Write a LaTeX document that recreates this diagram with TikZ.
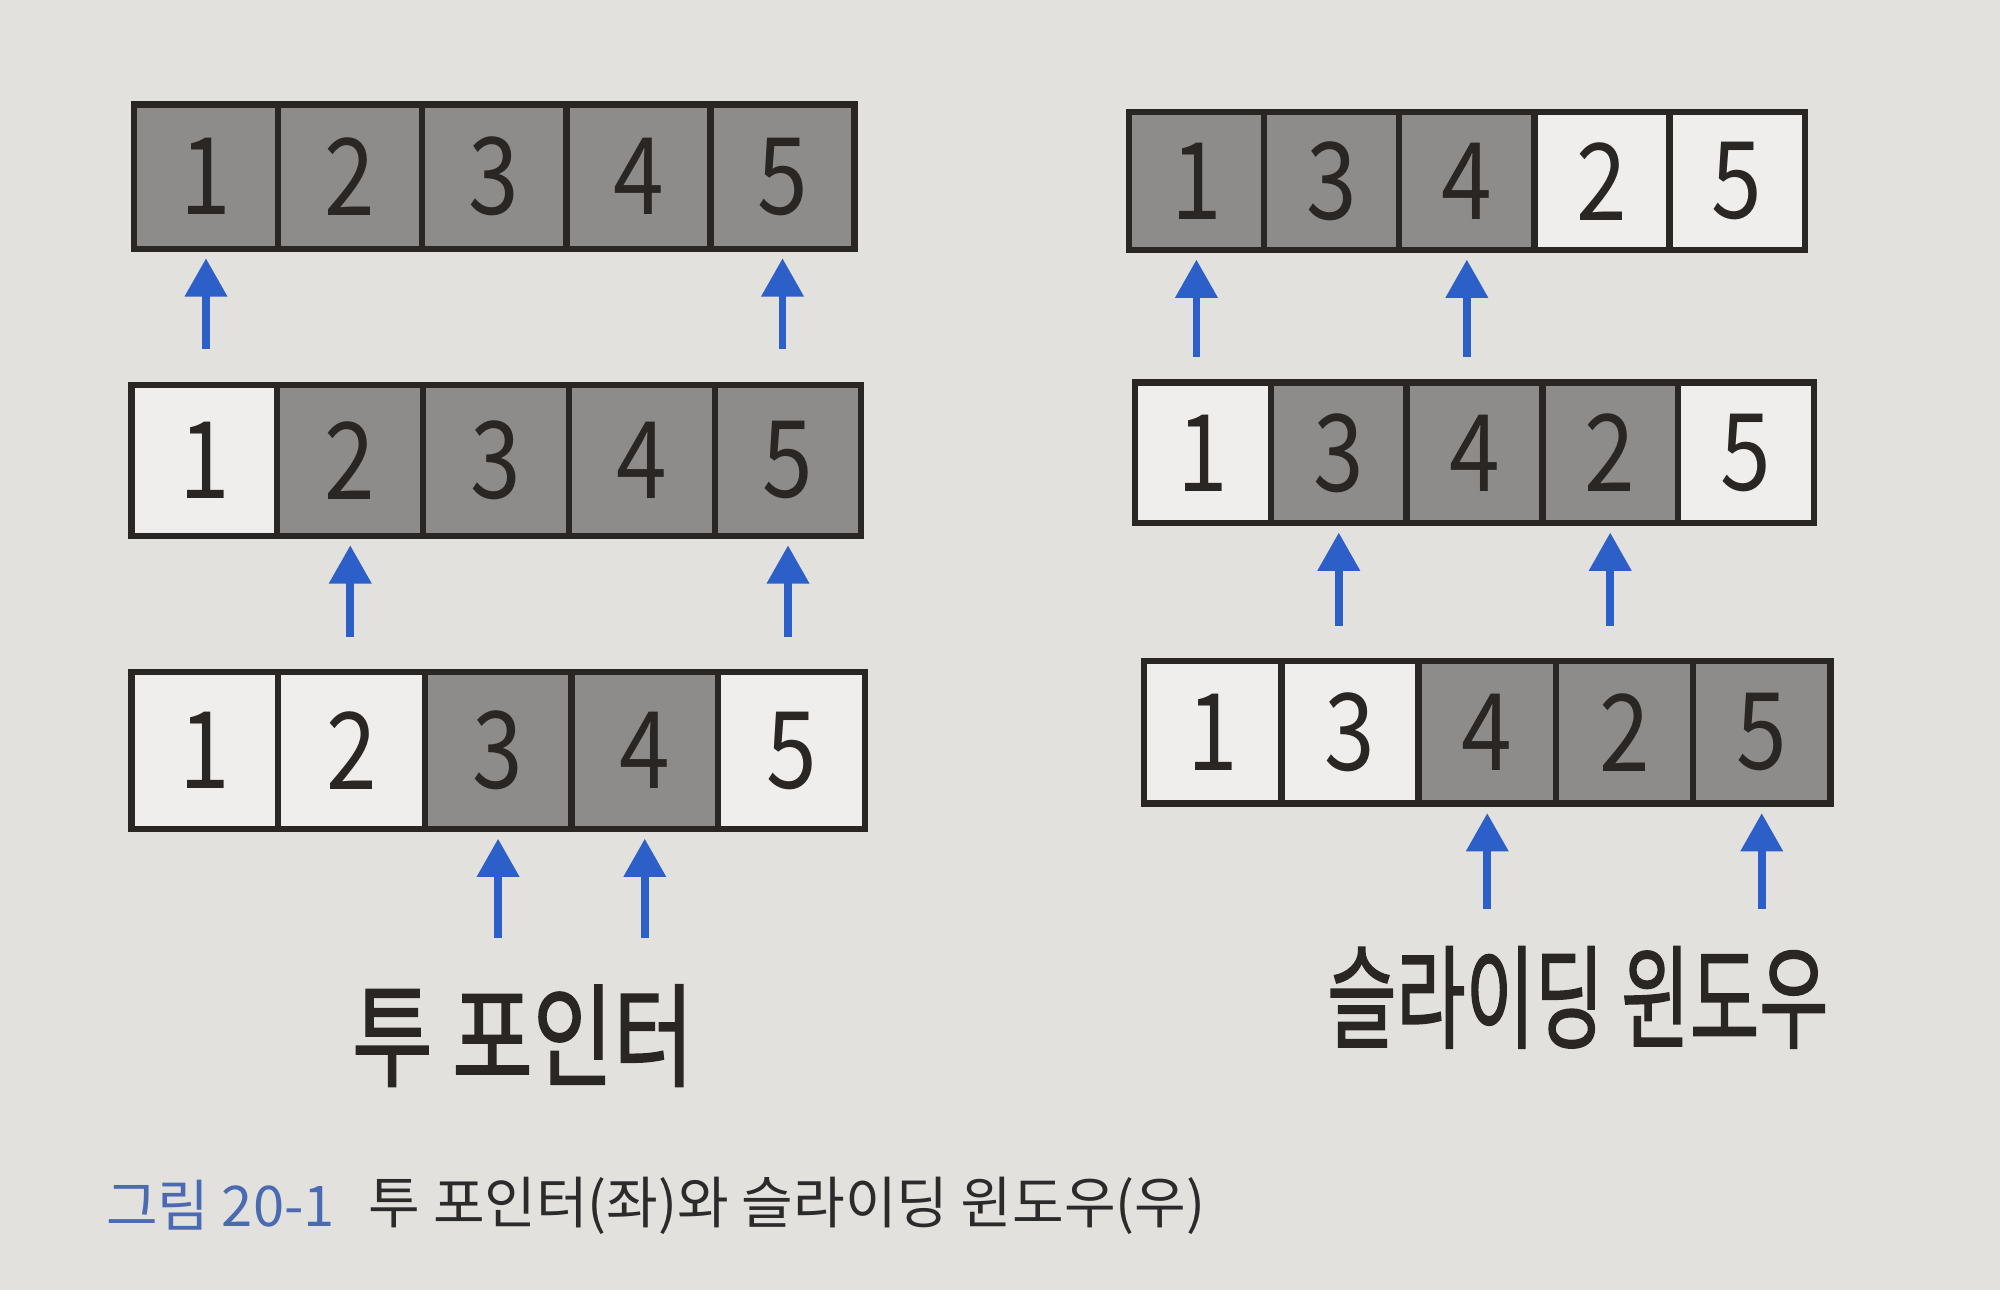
\documentclass[tikz,border=0pt]{standalone}
\usepackage{graphicx}
\usepackage{fontspec}
\setmainfont{Noto Sans CJK KR}
\newfontfamily\lblfont{Noto Sans CJK KR}[FakeBold=1.6]
\usetikzlibrary{arrows.meta}
\definecolor{paper}{HTML}{E3E1DE}
\definecolor{cellgrey}{HTML}{8E8C8A}
\definecolor{cellwhite}{HTML}{EFEEEC}
\definecolor{ink}{HTML}{2A2624}
\definecolor{ptrblue}{HTML}{2D5FC8}
\definecolor{capblue}{HTML}{4A6BB2}
\definecolor{captext}{HTML}{2B2B2B}
\newcommand\cellrow[6]{%
  \foreach \v/\f [count=\i] in {#6}{%
    \node[cell, fill=\f, minimum width=#4pt, minimum height=#5pt]
      (#1\i) at ({#2+(\i-0.5)*#4}, {#3+0.5*#5}) {\scalebox{0.85}[1]{\v}};
  }%
}
\begin{document}
\begin{tikzpicture}[x=1pt,y=-1pt,
  cell/.style={draw=ink, line width=5pt, inner sep=0pt, text=ink,
    font=\fontsize{84}{84}\selectfont},
  ptr/.style={draw=ptrblue, line width=6pt,
    -{Triangle[width=32pt,length=30pt,fill=ptrblue]}, shorten >=5pt},
  lbl/.style={text=ink, inner sep=0pt, font=\lblfont\fontsize{88}{88}\selectfont},
  captxt/.style={inner sep=0pt, anchor=west, font=\fontsize{44}{44}\selectfont}]

\fill[paper] (0,0) rectangle (1568,1011);
\useasboundingbox (0,0) rectangle (1568,1011);

% two pointers (left)
\cellrow{La}{105}{82}{113}{113}{1/cellgrey,2/cellgrey,3/cellgrey,4/cellgrey,5/cellgrey}
\cellrow{Lb}{103}{302}{114.4}{118}{1/cellwhite,2/cellgrey,3/cellgrey,4/cellgrey,5/cellgrey}
\cellrow{Lc}{103}{527}{115}{123}{1/cellwhite,2/cellwhite,3/cellgrey,4/cellgrey,5/cellwhite}

% sliding window (right)
\cellrow{Ra}{885}{88}{106}{108}{1/cellgrey,3/cellgrey,4/cellgrey,2/cellwhite,5/cellwhite}
\cellrow{Rb}{890}{300}{106.4}{110}{1/cellwhite,3/cellgrey,4/cellgrey,2/cellgrey,5/cellwhite}
\cellrow{Rc}{897}{518}{107.6}{112}{1/cellwhite,3/cellwhite,4/cellgrey,2/cellgrey,5/cellgrey}

% pointer arrows
\coordinate (pLa1) at ([yshift=-76pt]La1.south);
\coordinate (pLa5) at ([yshift=-76pt]La5.south);
\coordinate (pLb2) at ([yshift=-77pt]Lb2.south);
\coordinate (pLb5) at ([yshift=-77pt]Lb5.south);
\coordinate (pLc3) at ([yshift=-83pt]Lc3.south);
\coordinate (pLc4) at ([yshift=-83pt]Lc4.south);
\coordinate (pRa1) at ([yshift=-81pt]Ra1.south);
\coordinate (pRa3) at ([yshift=-81pt]Ra3.south);
\coordinate (pRb2) at ([yshift=-78pt]Rb2.south);
\coordinate (pRb4) at ([yshift=-78pt]Rb4.south);
\coordinate (pRc3) at ([yshift=-80pt]Rc3.south);
\coordinate (pRc5) at ([yshift=-80pt]Rc5.south);
\foreach \c in {La1,La5,Lb2,Lb5,Lc3,Lc4,Ra1,Ra3,Rb2,Rb4,Rc3,Rc5}
  \draw[ptr] (p\c) -- (\c.south);

% labels
\node[lbl] (tp) at (410,812) {\scalebox{0.78}[1]{투 포인터}};
\node[lbl] (sw) at (1237,782) {\scalebox{0.67}[1]{슬라이딩 윈도우}};

% caption
\node[captxt, text=capblue] (fig) at (83,945) {그림 20-1};
\node[captxt, text=captext] (capt) at (289,945) {투 포인터(좌)와 슬라이딩 윈도우(우)};
\end{tikzpicture}
\end{document}
